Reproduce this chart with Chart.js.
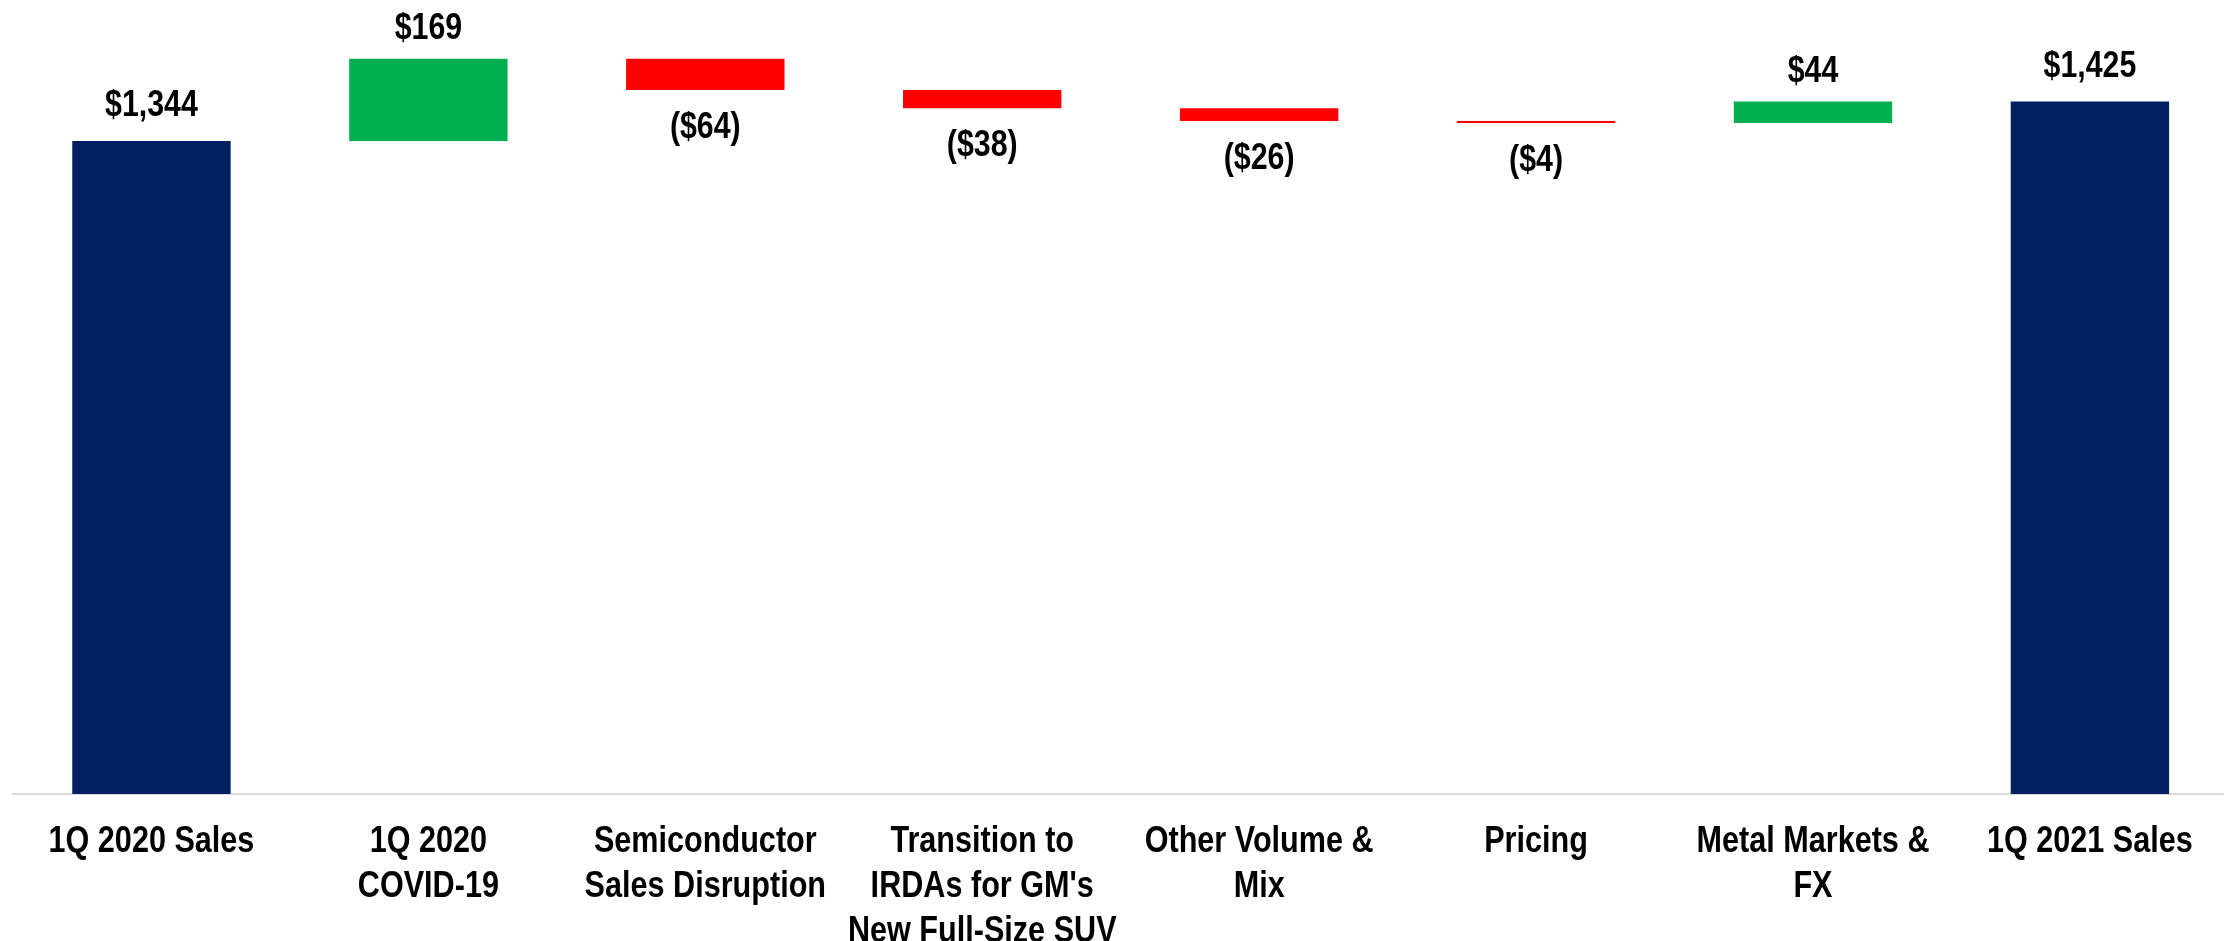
<!DOCTYPE html>
<html lang="en">
<head>
<meta charset="utf-8">
<title>Sales walk 1Q 2020 to 1Q 2021</title>
<script src="https://cdn.jsdelivr.net/npm/chart.js@4.4.1/dist/chart.umd.min.js"></script>
<style>
  html, body { margin: 0; padding: 0; background: #ffffff; overflow: hidden; }
  .chart-wrap { position: relative; width: 2237px; height: 941px; }
</style>
</head>
<body>
<div class="chart-wrap"><canvas id="walkChart"></canvas></div>
<script>
const categories = [
  '1Q 2020 Sales',
  ['1Q 2020', 'COVID-19'],
  ['Semiconductor', 'Sales Disruption'],
  ['Transition to', "IRDAs for GM's", 'New Full-Size SUV'],
  ['Other Volume &', 'Mix'],
  'Pricing',
  ['Metal Markets &', 'FX'],
  '1Q 2021 Sales'
];
const amounts = [1344, 169, -64, -38, -26, -4, 44, 1425];
const barKinds = ['total', 'delta', 'delta', 'delta', 'delta', 'delta', 'delta', 'total'];
const yAxisMax = 1634;

const colours = {
  total: '#002060',
  up: '#00B050',
  down: '#FF0000'
};

const labelFont = '"Liberation Sans", Arial, sans-serif';
// the original uses a narrow face; squeeze the text horizontally instead
const tickNarrow = 0.85;
const valueNarrow = 0.82;

// running totals turn the deltas into floating bars
function buildRanges() {
  let running = 0;
  return amounts.map((value, i) => {
    if (barKinds[i] === 'total') {
      running = value;
      return [0, value];
    }
    const start = running;
    running += value;
    return [start, running];
  });
}

function barColour(i) {
  if (barKinds[i] === 'total') {
    return colours.total;
  }
  return amounts[i] < 0 ? colours.down : colours.up;
}

function formatMoney(value) {
  const text = '$' + Math.abs(value).toLocaleString('en-US');
  return value < 0 ? `(${text})` : text;
}

const narrowText = {
  id: 'narrowText',
  beforeDraw(chart) {
    const ctx = chart.ctx;
    const original = ctx.fillText;
    chart._plainFillText = original;
    ctx.fillText = function (text, x, y) {
      const width = this.measureText(text).width;
      original.call(this, text, x, y, width * tickNarrow);
    };
  },
  afterDraw(chart) {
    if (chart._plainFillText) {
      chart.ctx.fillText = chart._plainFillText;
      chart._plainFillText = null;
    }
  }
};

const valueLabels = {
  id: 'valueLabels',
  afterDatasetsDraw(chart) {
    const { ctx } = chart;
    const plain = chart._plainFillText || ctx.fillText;
    const meta = chart.getDatasetMeta(0);
    ctx.save();
    ctx.font = `bold 37px ${labelFont}`;
    ctx.fillStyle = '#000000';
    ctx.textAlign = 'center';
    ctx.textBaseline = 'alphabetic';
    meta.data.forEach((bar, i) => {
      const value = amounts[i];
      const text = formatMoney(value);
      const width = ctx.measureText(text).width * valueNarrow;
      const top = Math.min(bar.y, bar.base);
      const bottom = Math.max(bar.y, bar.base);
      if (value < 0) {
        plain.call(ctx, text, bar.x, bottom + 48, width);
      } else {
        const gap = barKinds[i] === 'total' ? 25 : 20;
        plain.call(ctx, text, bar.x, top - gap, width);
      }
    });
    ctx.restore();
  }
};

window.addEventListener('DOMContentLoaded', () => {
  const ctx = document.getElementById('walkChart');
  new Chart(ctx, {
    type: 'bar',
    data: {
      labels: categories,
      datasets: [{
        data: buildRanges(),
        backgroundColor: amounts.map((_, i) => barColour(i)),
        borderWidth: 0,
        borderSkipped: false,
        barPercentage: 1,
        categoryPercentage: 0.572
      }]
    },
    options: {
      responsive: true,
      maintainAspectRatio: false,
      animation: false,
      layout: {
        padding: { left: 13, right: 0, top: 0, bottom: 0 }
      },
      plugins: {
        legend: { display: false },
        tooltip: { enabled: false }
      },
      scales: {
        x: {
          grid: { display: false, drawTicks: false },
          border: { display: true, color: '#D9D9D9', width: 2 },
          ticks: {
            color: '#000000',
            padding: 26,
            maxRotation: 0,
            autoSkip: false,
            font: { family: labelFont, size: 36, weight: 'bold', lineHeight: 1.25 }
          },
          afterFit(scale) {
            scale.height = 147;
          }
        },
        y: {
          display: false,
          min: 0,
          max: yAxisMax
        }
      }
    },
    plugins: [narrowText, valueLabels]
  });
});
</script>
</body>
</html>
